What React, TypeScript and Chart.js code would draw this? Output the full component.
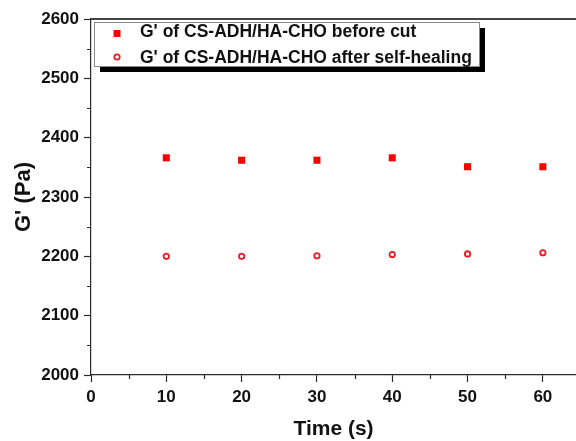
import React, { useEffect, useRef } from 'react';
import { Chart, registerables } from 'chart.js';

Chart.register(...registerables);

// ---- data ----
const timeS = [10, 20, 30, 40, 50, 60];
const gBeforeCut = [2366, 2362, 2362, 2366, 2351, 2351];
const gAfterHealing = [2200, 2200, 2201, 2203, 2204, 2206];
const seriesLabels = [
  "G' of CS-ADH/HA-CHO before cut",
  "G' of CS-ADH/HA-CHO after self-healing",
];
const xMajorTicks = [0, 10, 20, 30, 40, 50, 60];
const xMinorTicks = [5, 15, 25, 35, 45, 55];
const yMajorTicks = [2000, 2100, 2200, 2300, 2400, 2500, 2600];
const yMinorTicks = [2050, 2150, 2250, 2350, 2450, 2550];
const xRange = [0, 64.4];
const yRange = [2000, 2600];
const xTitle = 'Time (s)';
const yTitle = "G' (Pa)";

const FONT = "'Liberation Sans', Arial, sans-serif";
const AXIS = '#2a2a2a';
const RED_FILL = '#ff0000';
const RED_RING = '#ec1c24';

const decorPlugin = {
  id: 'decor',
  afterDraw(chart: any) {
    const { ctx, chartArea, scales } = chart;
    const xs = scales.x;
    const ys = scales.y;
    ctx.save();
    // minor ticks
    ctx.strokeStyle = AXIS;
    ctx.lineWidth = 1.2;
    ctx.beginPath();
    xMinorTicks.forEach((v) => {
      const px = Math.round(xs.getPixelForValue(v)) + 0.5;
      ctx.moveTo(px, chartArea.bottom);
      ctx.lineTo(px, chartArea.bottom + 4);
    });
    yMinorTicks.forEach((v) => {
      const py = Math.round(ys.getPixelForValue(v)) + 0.5;
      ctx.moveTo(chartArea.left, py);
      ctx.lineTo(chartArea.left - 4, py);
    });
    ctx.stroke();
    // top frame line
    ctx.lineWidth = 2;
    ctx.strokeStyle = '#444';
    ctx.beginPath();
    ctx.moveTo(chartArea.left, chartArea.top);
    ctx.lineTo(chartArea.right, chartArea.top);
    ctx.stroke();

    // y title
    ctx.save();
    ctx.translate(24, (chartArea.top + chartArea.bottom) / 2);
    ctx.rotate(-Math.PI / 2);
    ctx.fillStyle = '#111';
    ctx.font = `bold 22px ${FONT}`;
    ctx.textAlign = 'center';
    ctx.textBaseline = 'middle';
    ctx.fillText(yTitle, 0, 0);
    ctx.restore();

    // legend
    const x0 = chartArea.left + 3;
    const y0 = chartArea.top + 3;
    const w = 385;
    const h = 44;
    ctx.fillStyle = '#000';
    ctx.fillRect(x0 + 6, y0 + 6, w, h);
    ctx.fillStyle = '#fff';
    ctx.fillRect(x0, y0, w, h);
    ctx.strokeStyle = '#8a8a8a';
    ctx.lineWidth = 1;
    ctx.strokeRect(x0 + 0.5, y0 + 0.5, w, h);
    const rows = [y0 + 9, y0 + 35];
    const mx = x0 + 23;
    // marker 1: filled square
    ctx.fillStyle = RED_FILL;
    ctx.fillRect(mx - 3.5, y0 + 11.5 - 3.5, 7, 7);
    // marker 2: ring
    ctx.strokeStyle = RED_RING;
    ctx.lineWidth = 1.8;
    ctx.beginPath();
    ctx.arc(mx, y0 + 35, 2.7, 0, Math.PI * 2);
    ctx.stroke();
    ctx.fillStyle = '#111';
    ctx.font = `bold 17.5px ${FONT}`;
    ctx.textAlign = 'left';
    ctx.textBaseline = 'middle';
    seriesLabels.forEach((t, i) => ctx.fillText(t, x0 + 46, rows[i] + 1));
    ctx.restore();
  },
};

export default function App() {
  const ref = useRef<HTMLCanvasElement | null>(null);
  useEffect(() => {
    if (!ref.current) return;
    const chart = new Chart(ref.current, {
      type: 'scatter',
      data: {
        datasets: [
          {
            label: seriesLabels[0],
            data: timeS.map((t, i) => ({ x: t, y: gBeforeCut[i] })),
            pointStyle: 'rect',
            pointRadius: 5,
            backgroundColor: RED_FILL,
            borderColor: RED_FILL,
            borderWidth: 0,
          },
          {
            label: seriesLabels[1],
            data: timeS.map((t, i) => ({ x: t, y: gAfterHealing[i] })),
            pointStyle: 'circle',
            pointRadius: 2.7,
            backgroundColor: 'rgba(255,255,255,0)',
            borderColor: RED_RING,
            borderWidth: 1.8,
          },
        ],
      },
      options: {
        responsive: false,
        animation: false,
        layout: { autoPadding: false, padding: { left: 0, right: 0, top: 19, bottom: 0 } },
        plugins: { legend: { display: false }, tooltip: { enabled: false } },
        scales: {
          x: {
            type: 'linear',
            min: xRange[0],
            max: xRange[1],
            afterBuildTicks: (s: any) => {
              s.ticks = xMajorTicks.map((value) => ({ value }));
            },
            afterFit: (s: any) => {
              s.height = 66;
              s.paddingRight = 0;
              s.paddingLeft = 0;
            },
            grid: {
              drawOnChartArea: false,
              drawTicks: true,
              tickLength: 7,
              tickWidth: 1.2,
              tickColor: AXIS,
            },
            border: { display: true, color: AXIS, width: 1.2 },
            ticks: {
              padding: 5,
              color: '#111',
              font: { family: FONT, size: 17, weight: 'bold' },
              callback: (v: any) => String(v),
              maxRotation: 0,
            },
            title: {
              display: true,
              text: xTitle,
              color: '#111',
              font: { family: FONT, size: 21, weight: 'bold' },
              padding: { top: 0, bottom: -1 },
            },
          },
          y: {
            type: 'linear',
            min: yRange[0],
            max: yRange[1],
            afterBuildTicks: (s: any) => {
              s.ticks = yMajorTicks.map((value) => ({ value }));
            },
            afterFit: (s: any) => {
              s.width = 91;
            },
            grid: {
              drawOnChartArea: false,
              drawTicks: true,
              tickLength: 7,
              tickWidth: 1.2,
              tickColor: AXIS,
            },
            border: { display: true, color: AXIS, width: 1.2 },
            ticks: {
              padding: 5,
              color: '#111',
              font: { family: FONT, size: 17, weight: 'bold' },
              callback: (v: any) => String(v),
            },
          },
        },
      },
      plugins: [decorPlugin],
    } as any);
    return () => chart.destroy();
  }, []);
  return (
    <div style={{ position: 'absolute', left: 0, top: 0, width: 576, height: 441, background: '#fff' }}>
      <canvas ref={ref} width={576} height={441} />
    </div>
  );
}
